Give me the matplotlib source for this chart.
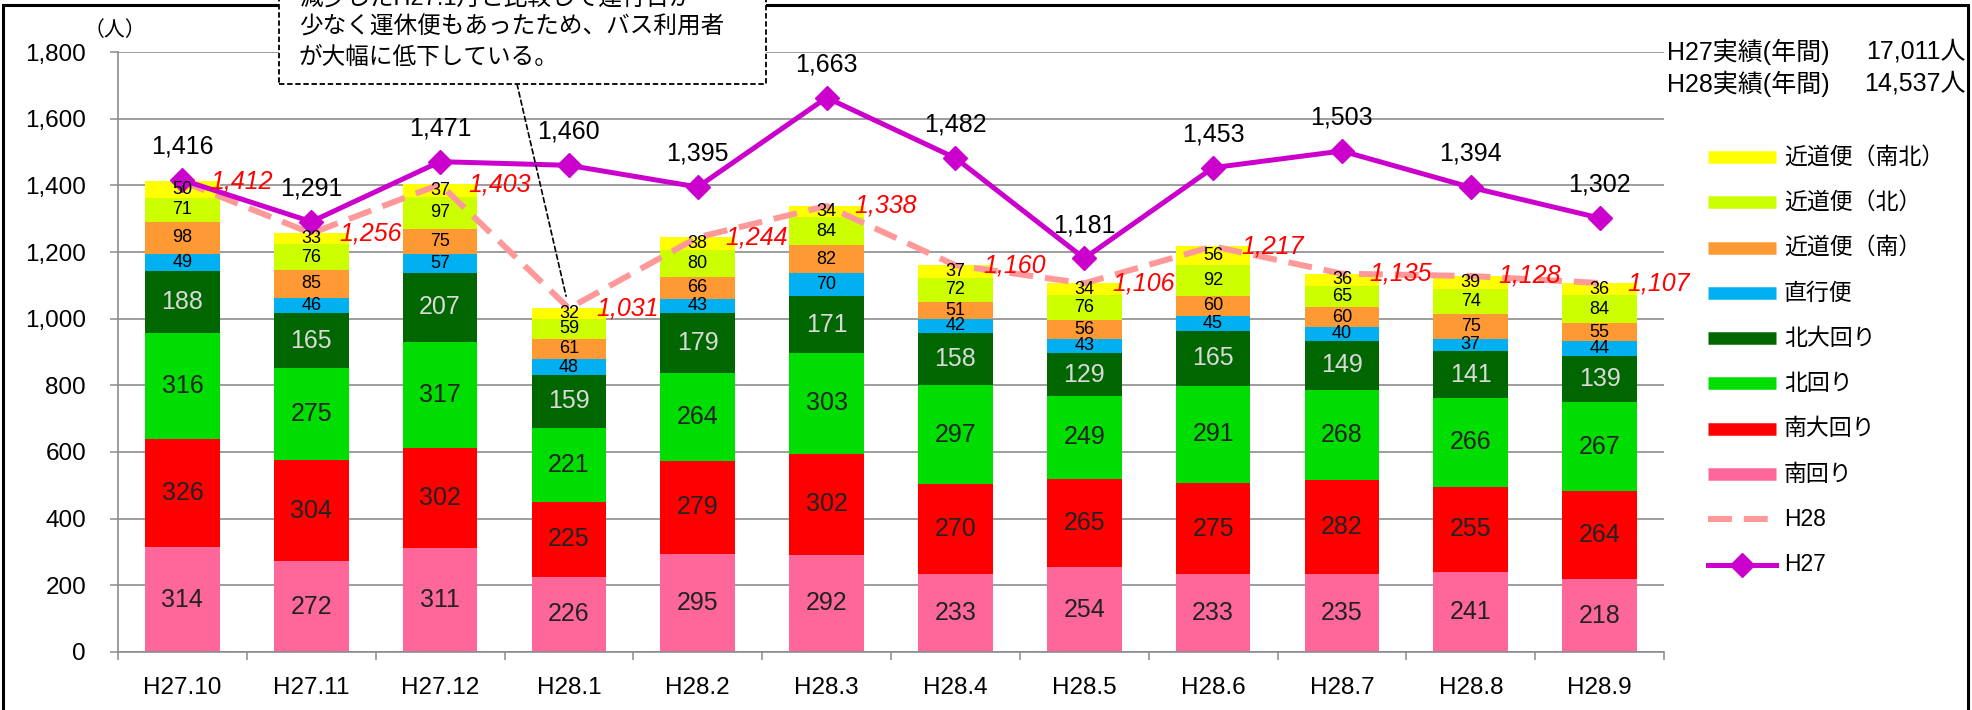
import matplotlib
matplotlib.use("Agg")
import matplotlib.pyplot as plt
from matplotlib.lines import Line2D
from matplotlib.patches import Rectangle
import numpy as np

plt.rcParams['font.family'] = ['Liberation Sans', 'Noto Sans CJK JP']

months = ["H27.10", "H27.11", "H27.12", "H28.1", "H28.2", "H28.3",
          "H28.4", "H28.5", "H28.6", "H28.7", "H28.8", "H28.9"]

minami = [314, 272, 311, 226, 295, 292, 233, 254, 233, 235, 241, 218]
minami_oo = [326, 304, 302, 225, 279, 302, 270, 265, 275, 282, 255, 264]
kita = [316, 275, 317, 221, 264, 303, 297, 249, 291, 268, 266, 267]
kita_oo = [188, 165, 207, 159, 179, 171, 158, 129, 165, 149, 141, 139]
chokko = [49, 46, 57, 48, 43, 70, 42, 43, 45, 40, 37, 44]
chikamichi_s = [98, 85, 75, 61, 66, 82, 51, 56, 60, 60, 75, 55]
chikamichi_n = [71, 76, 97, 59, 80, 84, 72, 76, 92, 65, 74, 84]
chikamichi_sn = [50, 33, 37, 32, 38, 34, 37, 34, 56, 36, 39, 36]

h28_total = [1412, 1256, 1403, 1031, 1244, 1338, 1160, 1106, 1217, 1135, 1128, 1107]
h27_total = [1416, 1291, 1471, 1460, 1395, 1663, 1482, 1181, 1453, 1503, 1394, 1302]

series_names = ["南回り", "南大回り", "北回り", "北大回り", "直行便",
                "近道便（南）", "近道便（北）", "近道便（南北）"]
series_vals = [minami, minami_oo, kita, kita_oo, chokko,
               chikamichi_s, chikamichi_n, chikamichi_sn]
series_colors = ["#FF6699", "#FF0000", "#00DD00", "#006600", "#00B0F0",
                 "#FF9933", "#CCFF00", "#FFFF00"]
label_colors = ["#222222", "#222222", "#222222", "#D9D9D9", "#000000",
                "#000000", "#000000", "#000000"]
label_sizes = [18, 18, 18, 18, 13, 13, 13, 13]

annual_labels = ["H27実績(年間)", "H28実績(年間)"]
annual_values = ["17,011人", "14,537人"]
note_lines = ["減少したH27.1月と比較して運行日が",
              "少なく運休便もあったため、バス利用者",
              "が大幅に低下している。"]

W, H = 1972, 710
fig = plt.figure(figsize=(W / 100, H / 100), dpi=100)
ax = fig.add_axes([118 / W, 1 - 652 / H, (1664 - 118) / W, (652 - 52) / H])

x = np.arange(len(months))
bottom = np.zeros(len(months))
for vals, col, lc, fs in zip(series_vals, series_colors, label_colors, label_sizes):
    v = np.array(vals, dtype=float)
    ax.bar(x, v, width=0.58, bottom=bottom, color=col, edgecolor='none', zorder=2)
    for xi, b, vi in zip(x, bottom, v):
        ax.text(xi, b + vi / 2, f"{int(vi)}", ha='center', va='center',
                fontsize=fs, color=lc, zorder=6)
    bottom += v

ax.plot(x, h28_total, color="#FF9999", lw=4.3, ls=(0, (4, 2)), zorder=4)
ax.plot(x, h27_total, color="#CC00CC", lw=3.6, marker='D', ms=12.5, zorder=5)

for xi, v in zip(x, h28_total):
    ax.annotate(f"{v:,}", (xi, v), xytext=(20, 0), textcoords='offset points',
                ha='left', va='center', fontsize=18, color='#FF0000',
                style='italic', zorder=7)
for xi, v in zip(x, h27_total):
    ax.annotate(f"{v:,}", (xi, v), xytext=(0, 24), textcoords='offset points',
                ha='center', va='center', fontsize=18, color='#000000', zorder=7)

ax.set_xlim(-0.5, len(months) - 0.5)
ax.set_ylim(0, 1800)
ax.set_yticks(np.arange(0, 1801, 200))
ax.set_yticklabels([f"{t:,}" for t in range(0, 1801, 200)], fontsize=17.5)
ax.set_xticks(x)
ax.set_xticklabels(months, fontsize=17.5)
ax.set_xticks(np.arange(-0.5, len(months), 1), minor=True)
ax.tick_params(axis='x', which='major', length=0, pad=18)
ax.tick_params(axis='x', which='minor', length=6, width=1.1, color='#8C8C8C')
ax.tick_params(axis='y', length=6, width=1.1, color='#8C8C8C', pad=17)
ax.grid(axis='y', color='#8C8C8C', lw=1.2, zorder=0)
ax.set_axisbelow(True)
for s in ['top', 'right']:
    ax.spines[s].set_visible(False)
for s in ['left', 'bottom']:
    ax.spines[s].set_color('#8C8C8C')
    ax.spines[s].set_linewidth(1.2)

def fx(px):
    return px / W

def fy(py):
    return 1 - py / H

# outer frame
fig.add_artist(Rectangle((fx(3), -0.1), fx(1968) - fx(3), fy(5) + 0.1,
                         fill=False, ec='black', lw=2.2, transform=fig.transFigure,
                         clip_on=False, zorder=10))

fig.text(fx(115), fy(30), "（人）", ha='center', va='center', fontsize=15)

# annual totals
for i, (lab, val) in enumerate(zip(annual_labels, annual_values)):
    yy = fy(52 + 32 * i)
    fig.text(fx(1667), yy, lab, ha='left', va='center', fontsize=18)
    fig.text(fx(1966), yy, val, ha='right', va='center', fontsize=18)

# legend (manual)
legend_items = list(zip(series_names, series_colors))[::-1]
for i, (name, col) in enumerate(legend_items):
    yy = fy(157 + 45.3 * i)
    fig.add_artist(Line2D([fx(1708), fx(1776)], [yy, yy], color=col, lw=9,
                          solid_capstyle='butt', transform=fig.transFigure))
    fig.text(fx(1784), yy, name, ha='left', va='center', fontsize=16.5)
i = len(legend_items)
yy = fy(157 + 45.3 * i)
fig.add_artist(Line2D([fx(1708), fx(1776)], [yy, yy], color="#FF9999", lw=4.3,
                      ls=(0, (4, 2)), transform=fig.transFigure))
fig.text(fx(1784), yy, "H28", ha='left', va='center', fontsize=16.5)
yy = fy(157 + 45.3 * (i + 1))
fig.add_artist(Line2D([fx(1708), fx(1776)], [yy, yy], color="#CC00CC", lw=3.6,
                      transform=fig.transFigure))
fig.add_artist(Line2D([fx(1742)], [yy], color="#CC00CC", marker='D', ms=12.5,
                      transform=fig.transFigure))
fig.text(fx(1784), yy, "H27", ha='left', va='center', fontsize=16.5)

# note box
fig.add_artist(Rectangle((fx(279), fy(84)), fx(766) - fx(279), 0.2,
                         fc='white', ec='black', lw=1.3, ls=(0, (3, 1.5)),
                         transform=fig.transFigure, clip_on=False, zorder=11))
for j, line in enumerate(note_lines):
    fig.text(fx(299), fy(-2 + 30 * j), line, ha='left', va='center',
             fontsize=17, zorder=12)
ax.annotate("", xy=(3, h28_total[3]), xycoords='data',
            xytext=(fx(517), fy(84)), textcoords='figure fraction',
            arrowprops=dict(arrowstyle='-', ls=(0, (3, 2)), color='black', lw=1.2,
                            shrinkA=0, shrinkB=9), zorder=8)

fig.savefig("out.png", dpi=100, facecolor='white')
